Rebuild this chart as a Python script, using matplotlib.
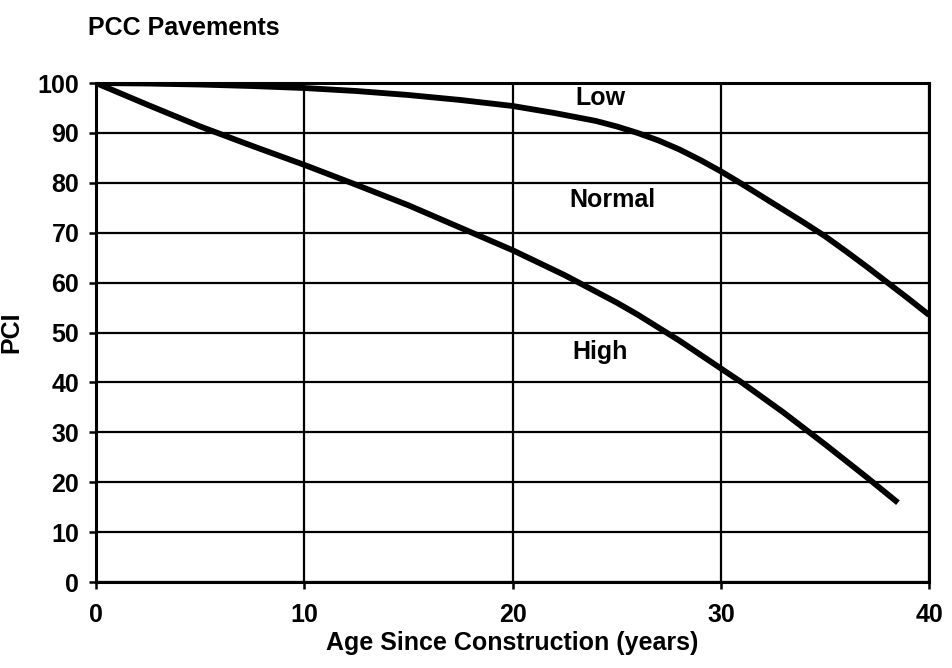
import matplotlib.pyplot as plt

plt.rcParams['font.family'] = ['Liberation Sans', 'DejaVu Sans']

# valores
edad_low = [0, 2.5, 5, 7.5, 10, 12.5, 15, 17.5, 20, 22, 24, 25, 26, 27, 28, 29, 30,
            31, 32, 33, 34, 35, 36, 37, 38, 39, 40]
pci_low = [100, 99.9, 99.7, 99.4, 99, 98.4, 97.6, 96.6, 95.4, 94, 92.4, 91.3, 90, 88.5, 86.7, 84.6, 82.3,
           79.8, 77.2, 74.6, 72, 69.3, 66.3, 63.2, 60, 56.8, 53.5]

edad_high = [0, 2.5, 5, 7.5, 10, 12.5, 15, 17.5, 20, 22.5, 25, 26, 27, 28, 29, 30,
             31, 32, 33, 34, 35, 36, 37, 38, 38.5]
pci_high = [100, 95.6, 91.3, 87.4, 83.6, 79.6, 75.5, 71, 66.5, 61.5, 56, 53.6, 51, 48.4, 45.6, 42.8,
            40, 37, 34, 30.8, 27.6, 24.3, 21, 17.6, 15.9]

etiquetas = ["Low", "Normal", "High"]
pos_etiquetas = [(24.2, 97), (24.8, 76.5), (24.2, 46)]

fig = plt.figure(figsize=(9.53, 6.68), dpi=100)
ax = fig.add_axes([0.1007, 0.1287, 0.8743, 0.747])

ax.plot(edad_low, pci_low, color="black", linewidth=4.2, solid_capstyle="butt")
ax.plot(edad_high, pci_high, color="black", linewidth=4.2, solid_capstyle="butt")

for texto, (x, y) in zip(etiquetas, pos_etiquetas):
    ax.text(x, y, texto, fontsize=18, fontweight="bold", ha="center", va="center")

ax.set_xlim(0, 40)
ax.set_ylim(0, 100)
ax.set_xticks([0, 10, 20, 30, 40])
ax.set_yticks(range(0, 101, 10))
ax.grid(True, color="black", linewidth=1.6)
ax.set_axisbelow(True)
for s in ax.spines.values():
    s.set_linewidth(2.2)

ax.tick_params(axis="both", direction="out", length=5, width=1.8, labelsize=18)
ax.tick_params(axis="x", pad=10)
ax.tick_params(axis="y", pad=7)
for lab in ax.get_xticklabels() + ax.get_yticklabels():
    lab.set_fontweight("bold")

ax.set_xlabel("Age Since Construction (years)", fontsize=18, fontweight="bold", labelpad=3)
ax.set_ylabel("PCI", fontsize=18, fontweight="bold", labelpad=10)
fig.text(0.092, 0.958, "PCC Pavements", fontsize=18, fontweight="bold", ha="left", va="center")

fig.savefig("out.png", dpi=100)
